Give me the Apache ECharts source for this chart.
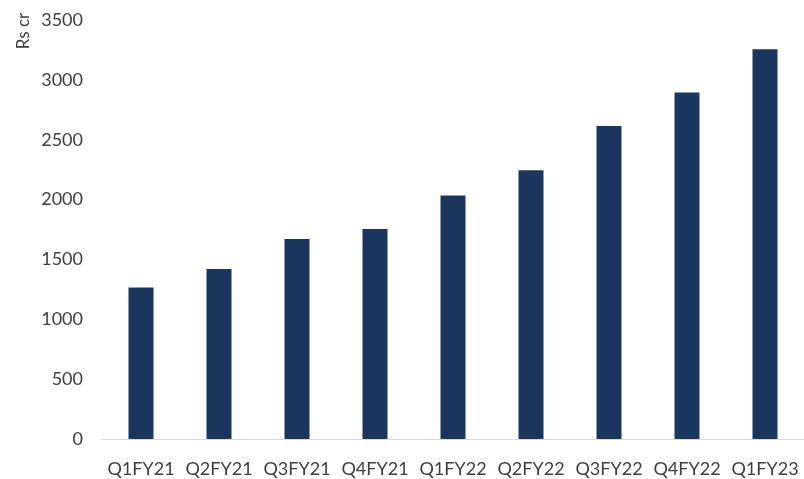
<!DOCTYPE html>
<html>
<head>
<meta charset="utf-8">
<script src="https://cdn.jsdelivr.net/npm/echarts@6/dist/echarts.min.js"></script>
<style>
  html, body { margin: 0; padding: 0; background: #ffffff; }
  #chart { width: 804px; height: 479px; }
</style>
</head>
<body>
<div id="chart"></div>
<script>
// Quarterly values, Rs cr
const quarters = ['Q1FY21', 'Q2FY21', 'Q3FY21', 'Q4FY21', 'Q1FY22', 'Q2FY22', 'Q3FY22', 'Q4FY22', 'Q1FY23'];
const values = [1265, 1420, 1670, 1755, 2035, 2245, 2615, 2895, 3255];
const yTicks = [0, 500, 1000, 1500, 2000, 2500, 3000, 3500];

const chart = echarts.init(document.getElementById('chart'), null, { renderer: 'canvas' });

const labelFont = { fontFamily: 'Lato', fontSize: 18, color: '#404040' };

chart.setOption({
  animation: false,
  backgroundColor: '#ffffff',
  grid: { left: 102, right: -5, top: 20, bottom: 40, containLabel: false },
  graphic: [{
    type: 'text',
    x: 24,
    y: 31,
    rotation: Math.PI / 2,
    style: {
      text: 'Rs cr',
      fontFamily: 'Lato',
      fontSize: 17,
      fill: '#404040',
      textAlign: 'center',
      textVerticalAlign: 'middle'
    }
  }],
  xAxis: {
    type: 'category',
    data: quarters,
    axisLine: { show: true, lineStyle: { color: '#d9d9d9', width: 1 } },
    axisTick: { show: false },
    axisLabel: Object.assign({ margin: 21, interval: 0 }, labelFont),
    splitLine: { show: false }
  },
  yAxis: {
    type: 'value',
    min: yTicks[0],
    max: yTicks[yTicks.length - 1],
    interval: yTicks[1] - yTicks[0],
    axisLine: { show: false },
    axisTick: { show: false },
    splitLine: { show: false },
    axisLabel: Object.assign({ margin: 19, formatter: v => String(v) }, labelFont)
  },
  series: [{
    type: 'bar',
    data: values,
    barWidth: 25,
    itemStyle: { color: '#1b365e' }
  }]
});
</script>
</body>
</html>
